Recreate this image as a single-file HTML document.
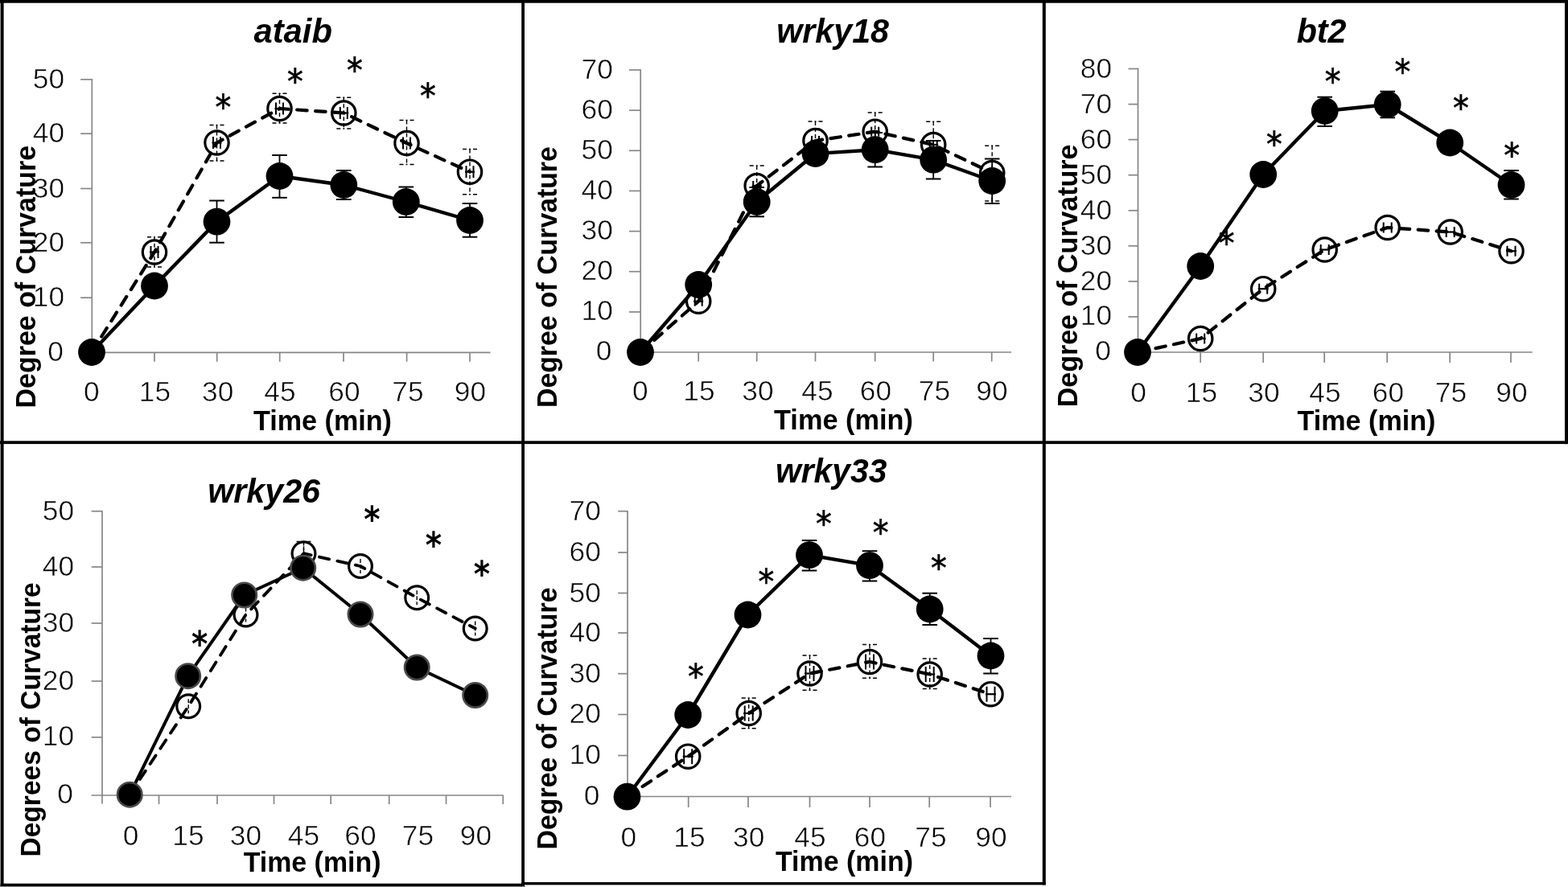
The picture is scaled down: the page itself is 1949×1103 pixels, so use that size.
<!DOCTYPE html>
<html lang="en"><head><meta charset="utf-8"><title>Degree of Curvature time courses</title>
<style>
html,body{margin:0;padding:0;background:#fff;}
body{width:1949px;height:1103px;overflow:hidden;}
svg{display:block;position:absolute;left:0;top:0;}
text{white-space:pre;}
</style></head><body>
<svg width="1949" height="1103" viewBox="0 0 1949 1103">
<rect x="0" y="0" width="1949" height="1103" fill="#fff"/>
<line x1="114.3" y1="98.0" x2="114.3" y2="438.3" stroke="#868686" stroke-width="1.7" />
<line x1="114.3" y1="438.3" x2="609.5" y2="438.3" stroke="#868686" stroke-width="1.7" />
<line x1="100.1" y1="438.3" x2="114.3" y2="438.3" stroke="#868686" stroke-width="1.7" />
<text x="78.8" y="448.6" font-size="35.3" text-anchor="end" fill="#050505" font-family='"Liberation Sans", "DejaVu Sans", sans-serif' stroke="#fff" stroke-width="0.55">0</text>
<line x1="100.1" y1="370.2" x2="114.3" y2="370.2" stroke="#868686" stroke-width="1.7" />
<text x="80.1" y="380.7" font-size="35.3" text-anchor="end" fill="#050505" font-family='"Liberation Sans", "DejaVu Sans", sans-serif' stroke="#fff" stroke-width="0.55">10</text>
<line x1="100.1" y1="301.8" x2="114.3" y2="301.8" stroke="#868686" stroke-width="1.7" />
<text x="80.1" y="312.5" font-size="35.3" text-anchor="end" fill="#050505" font-family='"Liberation Sans", "DejaVu Sans", sans-serif' stroke="#fff" stroke-width="0.55">20</text>
<line x1="100.1" y1="234.5" x2="114.3" y2="234.5" stroke="#868686" stroke-width="1.7" />
<text x="80.1" y="245.5" font-size="35.3" text-anchor="end" fill="#050505" font-family='"Liberation Sans", "DejaVu Sans", sans-serif' stroke="#fff" stroke-width="0.55">30</text>
<line x1="100.1" y1="166.2" x2="114.3" y2="166.2" stroke="#868686" stroke-width="1.7" />
<text x="80.1" y="177.4" font-size="35.3" text-anchor="end" fill="#050505" font-family='"Liberation Sans", "DejaVu Sans", sans-serif' stroke="#fff" stroke-width="0.55">40</text>
<line x1="100.1" y1="98.8" x2="114.3" y2="98.8" stroke="#868686" stroke-width="1.7" />
<text x="80.1" y="110.2" font-size="35.3" text-anchor="end" fill="#050505" font-family='"Liberation Sans", "DejaVu Sans", sans-serif' stroke="#fff" stroke-width="0.55">50</text>
<line x1="192.0" y1="438.3" x2="192.0" y2="449.8" stroke="#868686" stroke-width="1.7" />
<line x1="269.7" y1="438.3" x2="269.7" y2="449.8" stroke="#868686" stroke-width="1.7" />
<line x1="347.7" y1="438.3" x2="347.7" y2="449.8" stroke="#868686" stroke-width="1.7" />
<line x1="427.0" y1="438.3" x2="427.0" y2="449.8" stroke="#868686" stroke-width="1.7" />
<line x1="505.6" y1="438.3" x2="505.6" y2="449.8" stroke="#868686" stroke-width="1.7" />
<line x1="584.0" y1="438.3" x2="584.0" y2="449.8" stroke="#868686" stroke-width="1.7" />
<text x="113.8" y="498.6" font-size="35.3" text-anchor="middle" fill="#050505" font-family='"Liberation Sans", "DejaVu Sans", sans-serif' stroke="#fff" stroke-width="0.55">0</text>
<text x="192.5" y="498.6" font-size="35.3" text-anchor="middle" fill="#050505" font-family='"Liberation Sans", "DejaVu Sans", sans-serif' stroke="#fff" stroke-width="0.55">15</text>
<text x="270.7" y="498.6" font-size="35.3" text-anchor="middle" fill="#050505" font-family='"Liberation Sans", "DejaVu Sans", sans-serif' stroke="#fff" stroke-width="0.55">30</text>
<text x="348.0" y="498.6" font-size="35.3" text-anchor="middle" fill="#050505" font-family='"Liberation Sans", "DejaVu Sans", sans-serif' stroke="#fff" stroke-width="0.55">45</text>
<text x="428.0" y="498.6" font-size="35.3" text-anchor="middle" fill="#050505" font-family='"Liberation Sans", "DejaVu Sans", sans-serif' stroke="#fff" stroke-width="0.55">60</text>
<text x="507.0" y="498.6" font-size="35.3" text-anchor="middle" fill="#050505" font-family='"Liberation Sans", "DejaVu Sans", sans-serif' stroke="#fff" stroke-width="0.55">75</text>
<text x="584.5" y="498.6" font-size="35.3" text-anchor="middle" fill="#050505" font-family='"Liberation Sans", "DejaVu Sans", sans-serif' stroke="#fff" stroke-width="0.55">90</text>
<text x="364.2" y="52.5" font-size="43.2" text-anchor="middle" fill="#000" font-family='"Liberation Sans", "DejaVu Sans", sans-serif' font-weight="bold" font-style="italic" textLength="97.5" lengthAdjust="spacingAndGlyphs">ataib</text>
<text x="401.0" y="534.7" font-size="34.6" text-anchor="middle" fill="#000" font-family='"Liberation Sans", "DejaVu Sans", sans-serif' font-weight="bold" textLength="172.0" lengthAdjust="spacingAndGlyphs">Time (min)</text>
<text x="44.0" y="344.2" font-size="34.2" text-anchor="middle" fill="#000" font-family='"Liberation Sans", "DejaVu Sans", sans-serif' font-weight="bold" textLength="326.5" lengthAdjust="spacingAndGlyphs" transform="rotate(-90 44.0 344.2)">Degree of Curvature</text>
<polyline points="114.0,438.0 192.0,313.5 269.5,177.5 347.5,135.0 427.3,140.5 505.5,178.0 584.0,213.7" fill="none" stroke="#000" stroke-width="4.2" stroke-dasharray="12.5 10.5" stroke-linecap="round" stroke-linejoin="round"/>
<line x1="192.0" y1="294.7" x2="192.0" y2="332.0" stroke="#000" stroke-width="1.4" stroke-dasharray="5 3"/>
<line x1="183.0" y1="294.7" x2="201.0" y2="294.7" stroke="#000" stroke-width="1.5" stroke-dasharray="5 3 2 3"/>
<line x1="183.0" y1="332.0" x2="201.0" y2="332.0" stroke="#000" stroke-width="1.5" stroke-dasharray="5 3 2 3"/>
<line x1="269.5" y1="155.5" x2="269.5" y2="200.0" stroke="#000" stroke-width="1.4" stroke-dasharray="5 3"/>
<line x1="260.5" y1="155.5" x2="278.5" y2="155.5" stroke="#000" stroke-width="1.5" stroke-dasharray="5 3 2 3"/>
<line x1="260.5" y1="200.0" x2="278.5" y2="200.0" stroke="#000" stroke-width="1.5" stroke-dasharray="5 3 2 3"/>
<line x1="347.5" y1="116.2" x2="347.5" y2="153.0" stroke="#000" stroke-width="1.4" stroke-dasharray="5 3"/>
<line x1="338.5" y1="116.2" x2="356.5" y2="116.2" stroke="#000" stroke-width="1.5" stroke-dasharray="5 3 2 3"/>
<line x1="338.5" y1="153.0" x2="356.5" y2="153.0" stroke="#000" stroke-width="1.5" stroke-dasharray="5 3 2 3"/>
<line x1="427.3" y1="121.2" x2="427.3" y2="160.0" stroke="#000" stroke-width="1.4" stroke-dasharray="5 3"/>
<line x1="418.3" y1="121.2" x2="436.3" y2="121.2" stroke="#000" stroke-width="1.5" stroke-dasharray="5 3 2 3"/>
<line x1="418.3" y1="160.0" x2="436.3" y2="160.0" stroke="#000" stroke-width="1.5" stroke-dasharray="5 3 2 3"/>
<line x1="505.5" y1="149.5" x2="505.5" y2="204.5" stroke="#000" stroke-width="1.4" stroke-dasharray="5 3"/>
<line x1="496.5" y1="149.5" x2="514.5" y2="149.5" stroke="#000" stroke-width="1.5" stroke-dasharray="5 3 2 3"/>
<line x1="496.5" y1="204.5" x2="514.5" y2="204.5" stroke="#000" stroke-width="1.5" stroke-dasharray="5 3 2 3"/>
<line x1="584.0" y1="185.5" x2="584.0" y2="241.7" stroke="#000" stroke-width="1.4" stroke-dasharray="5 3"/>
<line x1="575.0" y1="185.5" x2="593.0" y2="185.5" stroke="#000" stroke-width="1.5" stroke-dasharray="5 3 2 3"/>
<line x1="575.0" y1="241.7" x2="593.0" y2="241.7" stroke="#000" stroke-width="1.5" stroke-dasharray="5 3 2 3"/>
<circle cx="192.0" cy="313.5" r="14.7" fill="none" stroke="#000" stroke-width="3.2"/>
<circle cx="269.5" cy="177.5" r="14.7" fill="none" stroke="#000" stroke-width="3.2"/>
<circle cx="347.5" cy="135.0" r="14.7" fill="none" stroke="#000" stroke-width="3.2"/>
<circle cx="427.3" cy="140.5" r="14.7" fill="none" stroke="#000" stroke-width="3.2"/>
<circle cx="505.5" cy="178.0" r="14.7" fill="none" stroke="#000" stroke-width="3.2"/>
<circle cx="584.0" cy="213.7" r="14.7" fill="none" stroke="#000" stroke-width="3.2"/>
<line x1="187.5" y1="306.0" x2="187.5" y2="321.0" stroke="#000" stroke-width="2" />
<line x1="196.5" y1="306.0" x2="196.5" y2="321.0" stroke="#000" stroke-width="2" />
<line x1="186.0" y1="313.5" x2="198.0" y2="313.5" stroke="#000" stroke-width="2.2" />
<line x1="265.0" y1="170.0" x2="265.0" y2="185.0" stroke="#000" stroke-width="2" />
<line x1="274.0" y1="170.0" x2="274.0" y2="185.0" stroke="#000" stroke-width="2" />
<line x1="263.5" y1="177.5" x2="275.5" y2="177.5" stroke="#000" stroke-width="2.2" />
<line x1="343.0" y1="127.5" x2="343.0" y2="142.5" stroke="#000" stroke-width="2" />
<line x1="352.0" y1="127.5" x2="352.0" y2="142.5" stroke="#000" stroke-width="2" />
<line x1="341.5" y1="135.0" x2="353.5" y2="135.0" stroke="#000" stroke-width="2.2" />
<line x1="422.8" y1="133.0" x2="422.8" y2="148.0" stroke="#000" stroke-width="2" />
<line x1="431.8" y1="133.0" x2="431.8" y2="148.0" stroke="#000" stroke-width="2" />
<line x1="421.3" y1="140.5" x2="433.3" y2="140.5" stroke="#000" stroke-width="2.2" />
<line x1="501.0" y1="170.5" x2="501.0" y2="185.5" stroke="#000" stroke-width="2" />
<line x1="510.0" y1="170.5" x2="510.0" y2="185.5" stroke="#000" stroke-width="2" />
<line x1="499.5" y1="178.0" x2="511.5" y2="178.0" stroke="#000" stroke-width="2.2" />
<line x1="579.5" y1="206.2" x2="579.5" y2="221.2" stroke="#000" stroke-width="2" />
<line x1="588.5" y1="206.2" x2="588.5" y2="221.2" stroke="#000" stroke-width="2" />
<line x1="578.0" y1="213.7" x2="590.0" y2="213.7" stroke="#000" stroke-width="2.2" />
<line x1="269.5" y1="249.5" x2="269.5" y2="301.7" stroke="#000" stroke-width="1.8" />
<line x1="260.2" y1="249.5" x2="278.8" y2="249.5" stroke="#000" stroke-width="2" />
<line x1="260.2" y1="301.7" x2="278.8" y2="301.7" stroke="#000" stroke-width="2" />
<line x1="347.5" y1="193.0" x2="347.5" y2="245.8" stroke="#000" stroke-width="1.8" />
<line x1="338.2" y1="193.0" x2="356.8" y2="193.0" stroke="#000" stroke-width="2" />
<line x1="338.2" y1="245.8" x2="356.8" y2="245.8" stroke="#000" stroke-width="2" />
<line x1="427.3" y1="212.0" x2="427.3" y2="248.0" stroke="#000" stroke-width="1.8" />
<line x1="418.0" y1="212.0" x2="436.6" y2="212.0" stroke="#000" stroke-width="2" />
<line x1="418.0" y1="248.0" x2="436.6" y2="248.0" stroke="#000" stroke-width="2" />
<line x1="504.8" y1="232.5" x2="504.8" y2="270.0" stroke="#000" stroke-width="1.8" />
<line x1="495.5" y1="232.5" x2="514.1" y2="232.5" stroke="#000" stroke-width="2" />
<line x1="495.5" y1="270.0" x2="514.1" y2="270.0" stroke="#000" stroke-width="2" />
<line x1="584.0" y1="253.0" x2="584.0" y2="294.7" stroke="#000" stroke-width="1.8" />
<line x1="574.7" y1="253.0" x2="593.3" y2="253.0" stroke="#000" stroke-width="2" />
<line x1="574.7" y1="294.7" x2="593.3" y2="294.7" stroke="#000" stroke-width="2" />
<polyline points="114.0,438.0 192.0,355.5 269.5,275.6 347.5,219.0 427.3,230.0 504.8,251.0 584.0,274.0" fill="none" stroke="#000" stroke-width="4.4" stroke-linejoin="round"/>
<circle cx="114.0" cy="438.0" r="16.9" fill="#000"/>
<circle cx="192.0" cy="355.5" r="16.9" fill="#000"/>
<circle cx="269.5" cy="275.6" r="16.9" fill="#000"/>
<circle cx="347.5" cy="219.0" r="16.9" fill="#000"/>
<circle cx="427.3" cy="230.0" r="16.9" fill="#000"/>
<circle cx="504.8" cy="251.0" r="16.9" fill="#000"/>
<circle cx="584.0" cy="274.0" r="16.9" fill="#000"/>
<text transform="translate(277.5 126.0) scale(0.92 1.0)" x="0" y="21.8" font-size="43" text-anchor="middle" stroke="#000" stroke-width="0.7" font-family='"DejaVu Sans", "Liberation Sans", sans-serif'>*</text>
<text transform="translate(366.8 93.8) scale(0.92 1.0)" x="0" y="21.8" font-size="43" text-anchor="middle" stroke="#000" stroke-width="0.7" font-family='"DejaVu Sans", "Liberation Sans", sans-serif'>*</text>
<text transform="translate(441.0 80.0) scale(0.92 1.0)" x="0" y="21.8" font-size="43" text-anchor="middle" stroke="#000" stroke-width="0.7" font-family='"DejaVu Sans", "Liberation Sans", sans-serif'>*</text>
<text transform="translate(532.0 112.5) scale(0.92 1.0)" x="0" y="21.8" font-size="43" text-anchor="middle" stroke="#000" stroke-width="0.7" font-family='"DejaVu Sans", "Liberation Sans", sans-serif'>*</text>
<line x1="796.2" y1="86.2" x2="796.2" y2="438.0" stroke="#868686" stroke-width="1.7" />
<line x1="796.2" y1="438.0" x2="1257.0" y2="438.0" stroke="#868686" stroke-width="1.7" />
<line x1="782.0" y1="438.0" x2="796.2" y2="438.0" stroke="#868686" stroke-width="1.7" />
<text x="760.5" y="448.3" font-size="35.3" text-anchor="end" fill="#050505" font-family='"Liberation Sans", "DejaVu Sans", sans-serif' stroke="#fff" stroke-width="0.55">0</text>
<line x1="782.0" y1="387.9" x2="796.2" y2="387.9" stroke="#868686" stroke-width="1.7" />
<text x="761.8" y="398.3" font-size="35.3" text-anchor="end" fill="#050505" font-family='"Liberation Sans", "DejaVu Sans", sans-serif' stroke="#fff" stroke-width="0.55">10</text>
<line x1="782.0" y1="337.7" x2="796.2" y2="337.7" stroke="#868686" stroke-width="1.7" />
<text x="761.8" y="348.3" font-size="35.3" text-anchor="end" fill="#050505" font-family='"Liberation Sans", "DejaVu Sans", sans-serif' stroke="#fff" stroke-width="0.55">20</text>
<line x1="782.0" y1="287.6" x2="796.2" y2="287.6" stroke="#868686" stroke-width="1.7" />
<text x="761.8" y="298.4" font-size="35.3" text-anchor="end" fill="#050505" font-family='"Liberation Sans", "DejaVu Sans", sans-serif' stroke="#fff" stroke-width="0.55">30</text>
<line x1="782.0" y1="237.4" x2="796.2" y2="237.4" stroke="#868686" stroke-width="1.7" />
<text x="761.8" y="248.4" font-size="35.3" text-anchor="end" fill="#050505" font-family='"Liberation Sans", "DejaVu Sans", sans-serif' stroke="#fff" stroke-width="0.55">40</text>
<line x1="782.0" y1="187.3" x2="796.2" y2="187.3" stroke="#868686" stroke-width="1.7" />
<text x="761.8" y="198.4" font-size="35.3" text-anchor="end" fill="#050505" font-family='"Liberation Sans", "DejaVu Sans", sans-serif' stroke="#fff" stroke-width="0.55">50</text>
<line x1="782.0" y1="137.2" x2="796.2" y2="137.2" stroke="#868686" stroke-width="1.7" />
<text x="761.8" y="148.4" font-size="35.3" text-anchor="end" fill="#050505" font-family='"Liberation Sans", "DejaVu Sans", sans-serif' stroke="#fff" stroke-width="0.55">60</text>
<line x1="782.0" y1="87.0" x2="796.2" y2="87.0" stroke="#868686" stroke-width="1.7" />
<text x="761.8" y="98.4" font-size="35.3" text-anchor="end" fill="#050505" font-family='"Liberation Sans", "DejaVu Sans", sans-serif' stroke="#fff" stroke-width="0.55">70</text>
<line x1="868.2" y1="438.0" x2="868.2" y2="449.5" stroke="#868686" stroke-width="1.7" />
<line x1="940.7" y1="438.0" x2="940.7" y2="449.5" stroke="#868686" stroke-width="1.7" />
<line x1="1013.5" y1="438.0" x2="1013.5" y2="449.5" stroke="#868686" stroke-width="1.7" />
<line x1="1087.7" y1="438.0" x2="1087.7" y2="449.5" stroke="#868686" stroke-width="1.7" />
<line x1="1160.2" y1="438.0" x2="1160.2" y2="449.5" stroke="#868686" stroke-width="1.7" />
<line x1="1232.7" y1="438.0" x2="1232.7" y2="449.5" stroke="#868686" stroke-width="1.7" />
<text x="795.7" y="498.2" font-size="35.3" text-anchor="middle" fill="#050505" font-family='"Liberation Sans", "DejaVu Sans", sans-serif' stroke="#fff" stroke-width="0.55">0</text>
<text x="869.0" y="498.2" font-size="35.3" text-anchor="middle" fill="#050505" font-family='"Liberation Sans", "DejaVu Sans", sans-serif' stroke="#fff" stroke-width="0.55">15</text>
<text x="942.0" y="498.2" font-size="35.3" text-anchor="middle" fill="#050505" font-family='"Liberation Sans", "DejaVu Sans", sans-serif' stroke="#fff" stroke-width="0.55">30</text>
<text x="1016.0" y="498.2" font-size="35.3" text-anchor="middle" fill="#050505" font-family='"Liberation Sans", "DejaVu Sans", sans-serif' stroke="#fff" stroke-width="0.55">45</text>
<text x="1088.5" y="498.2" font-size="35.3" text-anchor="middle" fill="#050505" font-family='"Liberation Sans", "DejaVu Sans", sans-serif' stroke="#fff" stroke-width="0.55">60</text>
<text x="1161.5" y="498.2" font-size="35.3" text-anchor="middle" fill="#050505" font-family='"Liberation Sans", "DejaVu Sans", sans-serif' stroke="#fff" stroke-width="0.55">75</text>
<text x="1233.0" y="498.2" font-size="35.3" text-anchor="middle" fill="#050505" font-family='"Liberation Sans", "DejaVu Sans", sans-serif' stroke="#fff" stroke-width="0.55">90</text>
<text x="1035.1" y="52.5" font-size="43.2" text-anchor="middle" fill="#000" font-family='"Liberation Sans", "DejaVu Sans", sans-serif' font-weight="bold" font-style="italic" textLength="139.8" lengthAdjust="spacingAndGlyphs">wrky18</text>
<text x="1048.5" y="533.6" font-size="34.6" text-anchor="middle" fill="#000" font-family='"Liberation Sans", "DejaVu Sans", sans-serif' font-weight="bold" textLength="173.0" lengthAdjust="spacingAndGlyphs">Time (min)</text>
<text x="692.0" y="344.6" font-size="34.2" text-anchor="middle" fill="#000" font-family='"Liberation Sans", "DejaVu Sans", sans-serif' font-weight="bold" textLength="324.8" lengthAdjust="spacingAndGlyphs" transform="rotate(-90 692.0 344.6)">Degree of Curvature</text>
<polyline points="796.0,438.0 868.2,374.7 940.7,231.0 1013.5,175.0 1087.7,163.7 1160.2,180.0 1233.2,215.0" fill="none" stroke="#000" stroke-width="4.2" stroke-dasharray="12.5 10.5" stroke-linecap="round" stroke-linejoin="round"/>
<line x1="940.7" y1="206.0" x2="940.7" y2="256.0" stroke="#000" stroke-width="1.4" stroke-dasharray="5 3"/>
<line x1="931.7" y1="206.0" x2="949.7" y2="206.0" stroke="#000" stroke-width="1.5" stroke-dasharray="5 3 2 3"/>
<line x1="931.7" y1="256.0" x2="949.7" y2="256.0" stroke="#000" stroke-width="1.5" stroke-dasharray="5 3 2 3"/>
<line x1="1013.5" y1="151.0" x2="1013.5" y2="199.0" stroke="#000" stroke-width="1.4" stroke-dasharray="5 3"/>
<line x1="1004.5" y1="151.0" x2="1022.5" y2="151.0" stroke="#000" stroke-width="1.5" stroke-dasharray="5 3 2 3"/>
<line x1="1004.5" y1="199.0" x2="1022.5" y2="199.0" stroke="#000" stroke-width="1.5" stroke-dasharray="5 3 2 3"/>
<line x1="1087.7" y1="140.0" x2="1087.7" y2="187.4" stroke="#000" stroke-width="1.4" stroke-dasharray="5 3"/>
<line x1="1078.7" y1="140.0" x2="1096.7" y2="140.0" stroke="#000" stroke-width="1.5" stroke-dasharray="5 3 2 3"/>
<line x1="1078.7" y1="187.4" x2="1096.7" y2="187.4" stroke="#000" stroke-width="1.5" stroke-dasharray="5 3 2 3"/>
<line x1="1160.2" y1="151.2" x2="1160.2" y2="208.8" stroke="#000" stroke-width="1.4" stroke-dasharray="5 3"/>
<line x1="1151.2" y1="151.2" x2="1169.2" y2="151.2" stroke="#000" stroke-width="1.5" stroke-dasharray="5 3 2 3"/>
<line x1="1151.2" y1="208.8" x2="1169.2" y2="208.8" stroke="#000" stroke-width="1.5" stroke-dasharray="5 3 2 3"/>
<line x1="1233.2" y1="181.2" x2="1233.2" y2="250.0" stroke="#000" stroke-width="1.4" stroke-dasharray="5 3"/>
<line x1="1224.2" y1="181.2" x2="1242.2" y2="181.2" stroke="#000" stroke-width="1.5" stroke-dasharray="5 3 2 3"/>
<line x1="1224.2" y1="250.0" x2="1242.2" y2="250.0" stroke="#000" stroke-width="1.5" stroke-dasharray="5 3 2 3"/>
<circle cx="868.2" cy="374.7" r="14.7" fill="none" stroke="#000" stroke-width="3.2"/>
<circle cx="940.7" cy="231.0" r="14.7" fill="none" stroke="#000" stroke-width="3.2"/>
<circle cx="1013.5" cy="175.0" r="14.7" fill="none" stroke="#000" stroke-width="3.2"/>
<circle cx="1087.7" cy="163.7" r="14.7" fill="none" stroke="#000" stroke-width="3.2"/>
<circle cx="1160.2" cy="180.0" r="14.7" fill="none" stroke="#000" stroke-width="3.2"/>
<circle cx="1233.2" cy="215.0" r="14.7" fill="none" stroke="#000" stroke-width="3.2"/>
<line x1="863.7" y1="368.7" x2="863.7" y2="380.7" stroke="#000" stroke-width="2" />
<line x1="872.7" y1="368.7" x2="872.7" y2="380.7" stroke="#000" stroke-width="2" />
<line x1="862.2" y1="374.7" x2="874.2" y2="374.7" stroke="#000" stroke-width="2.2" />
<line x1="936.2" y1="225.0" x2="936.2" y2="237.0" stroke="#000" stroke-width="2" />
<line x1="945.2" y1="225.0" x2="945.2" y2="237.0" stroke="#000" stroke-width="2" />
<line x1="934.7" y1="231.0" x2="946.7" y2="231.0" stroke="#000" stroke-width="2.2" />
<line x1="1009.0" y1="169.0" x2="1009.0" y2="181.0" stroke="#000" stroke-width="2" />
<line x1="1018.0" y1="169.0" x2="1018.0" y2="181.0" stroke="#000" stroke-width="2" />
<line x1="1007.5" y1="175.0" x2="1019.5" y2="175.0" stroke="#000" stroke-width="2.2" />
<line x1="1083.2" y1="157.7" x2="1083.2" y2="169.7" stroke="#000" stroke-width="2" />
<line x1="1092.2" y1="157.7" x2="1092.2" y2="169.7" stroke="#000" stroke-width="2" />
<line x1="1081.7" y1="163.7" x2="1093.7" y2="163.7" stroke="#000" stroke-width="2.2" />
<line x1="1155.7" y1="174.0" x2="1155.7" y2="186.0" stroke="#000" stroke-width="2" />
<line x1="1164.7" y1="174.0" x2="1164.7" y2="186.0" stroke="#000" stroke-width="2" />
<line x1="1154.2" y1="180.0" x2="1166.2" y2="180.0" stroke="#000" stroke-width="2.2" />
<line x1="1228.7" y1="209.0" x2="1228.7" y2="221.0" stroke="#000" stroke-width="2" />
<line x1="1237.7" y1="209.0" x2="1237.7" y2="221.0" stroke="#000" stroke-width="2" />
<line x1="1227.2" y1="215.0" x2="1239.2" y2="215.0" stroke="#000" stroke-width="2.2" />
<line x1="940.7" y1="233.0" x2="940.7" y2="269.3" stroke="#000" stroke-width="1.8" />
<line x1="931.4" y1="233.0" x2="950.0" y2="233.0" stroke="#000" stroke-width="2" />
<line x1="931.4" y1="269.3" x2="950.0" y2="269.3" stroke="#000" stroke-width="2" />
<line x1="1087.7" y1="165.0" x2="1087.7" y2="207.5" stroke="#000" stroke-width="1.8" />
<line x1="1078.4" y1="165.0" x2="1097.0" y2="165.0" stroke="#000" stroke-width="2" />
<line x1="1078.4" y1="207.5" x2="1097.0" y2="207.5" stroke="#000" stroke-width="2" />
<line x1="1160.2" y1="175.0" x2="1160.2" y2="222.5" stroke="#000" stroke-width="1.8" />
<line x1="1150.9" y1="175.0" x2="1169.5" y2="175.0" stroke="#000" stroke-width="2" />
<line x1="1150.9" y1="222.5" x2="1169.5" y2="222.5" stroke="#000" stroke-width="2" />
<line x1="1233.2" y1="197.5" x2="1233.2" y2="253.0" stroke="#000" stroke-width="1.8" />
<line x1="1223.9" y1="197.5" x2="1242.5" y2="197.5" stroke="#000" stroke-width="2" />
<line x1="1223.9" y1="253.0" x2="1242.5" y2="253.0" stroke="#000" stroke-width="2" />
<polyline points="796.0,438.0 868.2,354.0 940.7,251.0 1013.5,191.0 1087.7,186.2 1160.2,198.7 1233.2,225.0" fill="none" stroke="#000" stroke-width="4.4" stroke-linejoin="round"/>
<circle cx="796.0" cy="438.0" r="16.9" fill="#000"/>
<circle cx="868.2" cy="354.0" r="16.9" fill="#000"/>
<circle cx="940.7" cy="251.0" r="16.9" fill="#000"/>
<circle cx="1013.5" cy="191.0" r="16.9" fill="#000"/>
<circle cx="1087.7" cy="186.2" r="16.9" fill="#000"/>
<circle cx="1160.2" cy="198.7" r="16.9" fill="#000"/>
<circle cx="1233.2" cy="225.0" r="16.9" fill="#000"/>
<line x1="1414.5" y1="84.7" x2="1414.5" y2="438.0" stroke="#868686" stroke-width="1.7" />
<line x1="1414.5" y1="438.0" x2="1904.7" y2="438.0" stroke="#868686" stroke-width="1.7" />
<line x1="1402.5" y1="438.0" x2="1414.5" y2="438.0" stroke="#868686" stroke-width="1.7" />
<text x="1380.8" y="448.3" font-size="35.3" text-anchor="end" fill="#050505" font-family='"Liberation Sans", "DejaVu Sans", sans-serif' stroke="#fff" stroke-width="0.55">0</text>
<line x1="1402.5" y1="393.9" x2="1414.5" y2="393.9" stroke="#868686" stroke-width="1.7" />
<text x="1382.1" y="404.4" font-size="35.3" text-anchor="end" fill="#050505" font-family='"Liberation Sans", "DejaVu Sans", sans-serif' stroke="#fff" stroke-width="0.55">10</text>
<line x1="1402.5" y1="349.9" x2="1414.5" y2="349.9" stroke="#868686" stroke-width="1.7" />
<text x="1382.1" y="360.5" font-size="35.3" text-anchor="end" fill="#050505" font-family='"Liberation Sans", "DejaVu Sans", sans-serif' stroke="#fff" stroke-width="0.55">20</text>
<line x1="1402.5" y1="305.8" x2="1414.5" y2="305.8" stroke="#868686" stroke-width="1.7" />
<text x="1382.1" y="316.5" font-size="35.3" text-anchor="end" fill="#050505" font-family='"Liberation Sans", "DejaVu Sans", sans-serif' stroke="#fff" stroke-width="0.55">30</text>
<line x1="1402.5" y1="261.8" x2="1414.5" y2="261.8" stroke="#868686" stroke-width="1.7" />
<text x="1382.1" y="272.6" font-size="35.3" text-anchor="end" fill="#050505" font-family='"Liberation Sans", "DejaVu Sans", sans-serif' stroke="#fff" stroke-width="0.55">40</text>
<line x1="1402.5" y1="217.7" x2="1414.5" y2="217.7" stroke="#868686" stroke-width="1.7" />
<text x="1382.1" y="228.7" font-size="35.3" text-anchor="end" fill="#050505" font-family='"Liberation Sans", "DejaVu Sans", sans-serif' stroke="#fff" stroke-width="0.55">50</text>
<line x1="1402.5" y1="173.6" x2="1414.5" y2="173.6" stroke="#868686" stroke-width="1.7" />
<text x="1382.1" y="184.8" font-size="35.3" text-anchor="end" fill="#050505" font-family='"Liberation Sans", "DejaVu Sans", sans-serif' stroke="#fff" stroke-width="0.55">60</text>
<line x1="1402.5" y1="129.6" x2="1414.5" y2="129.6" stroke="#868686" stroke-width="1.7" />
<text x="1382.1" y="140.8" font-size="35.3" text-anchor="end" fill="#050505" font-family='"Liberation Sans", "DejaVu Sans", sans-serif' stroke="#fff" stroke-width="0.55">70</text>
<line x1="1402.5" y1="85.5" x2="1414.5" y2="85.5" stroke="#868686" stroke-width="1.7" />
<text x="1382.1" y="96.9" font-size="35.3" text-anchor="end" fill="#050505" font-family='"Liberation Sans", "DejaVu Sans", sans-serif' stroke="#fff" stroke-width="0.55">80</text>
<line x1="1492.2" y1="438.0" x2="1492.2" y2="451.0" stroke="#868686" stroke-width="1.7" />
<line x1="1570.2" y1="438.0" x2="1570.2" y2="451.0" stroke="#868686" stroke-width="1.7" />
<line x1="1646.2" y1="438.0" x2="1646.2" y2="451.0" stroke="#868686" stroke-width="1.7" />
<line x1="1724.2" y1="438.0" x2="1724.2" y2="451.0" stroke="#868686" stroke-width="1.7" />
<line x1="1802.2" y1="438.0" x2="1802.2" y2="451.0" stroke="#868686" stroke-width="1.7" />
<line x1="1878.0" y1="438.0" x2="1878.0" y2="451.0" stroke="#868686" stroke-width="1.7" />
<text x="1415.0" y="500.3" font-size="35.3" text-anchor="middle" fill="#050505" font-family='"Liberation Sans", "DejaVu Sans", sans-serif' stroke="#fff" stroke-width="0.55">0</text>
<text x="1493.5" y="500.3" font-size="35.3" text-anchor="middle" fill="#050505" font-family='"Liberation Sans", "DejaVu Sans", sans-serif' stroke="#fff" stroke-width="0.55">15</text>
<text x="1571.0" y="500.3" font-size="35.3" text-anchor="middle" fill="#050505" font-family='"Liberation Sans", "DejaVu Sans", sans-serif' stroke="#fff" stroke-width="0.55">30</text>
<text x="1647.0" y="500.3" font-size="35.3" text-anchor="middle" fill="#050505" font-family='"Liberation Sans", "DejaVu Sans", sans-serif' stroke="#fff" stroke-width="0.55">45</text>
<text x="1725.5" y="500.3" font-size="35.3" text-anchor="middle" fill="#050505" font-family='"Liberation Sans", "DejaVu Sans", sans-serif' stroke="#fff" stroke-width="0.55">60</text>
<text x="1803.5" y="500.3" font-size="35.3" text-anchor="middle" fill="#050505" font-family='"Liberation Sans", "DejaVu Sans", sans-serif' stroke="#fff" stroke-width="0.55">75</text>
<text x="1879.0" y="500.3" font-size="35.3" text-anchor="middle" fill="#050505" font-family='"Liberation Sans", "DejaVu Sans", sans-serif' stroke="#fff" stroke-width="0.55">90</text>
<text x="1642.6" y="52.5" font-size="43.2" text-anchor="middle" fill="#000" font-family='"Liberation Sans", "DejaVu Sans", sans-serif' font-weight="bold" font-style="italic" textLength="61.8" lengthAdjust="spacingAndGlyphs">bt2</text>
<text x="1698.5" y="534.7" font-size="34.6" text-anchor="middle" fill="#000" font-family='"Liberation Sans", "DejaVu Sans", sans-serif' font-weight="bold" textLength="172.0" lengthAdjust="spacingAndGlyphs">Time (min)</text>
<text x="1339.0" y="342.9" font-size="34.2" text-anchor="middle" fill="#000" font-family='"Liberation Sans", "DejaVu Sans", sans-serif' font-weight="bold" textLength="326.7" lengthAdjust="spacingAndGlyphs" transform="rotate(-90 1339.0 342.9)">Degree of Curvature</text>
<polyline points="1414.0,438.0 1492.2,421.0 1570.2,359.2 1646.7,310.5 1724.7,283.0 1802.7,288.5 1878.5,312.2" fill="none" stroke="#000" stroke-width="4.2" stroke-dasharray="12.5 10.5" stroke-linecap="round" stroke-linejoin="round"/>
<circle cx="1492.2" cy="421.0" r="14.7" fill="none" stroke="#000" stroke-width="3.2"/>
<circle cx="1570.2" cy="359.2" r="14.7" fill="none" stroke="#000" stroke-width="3.2"/>
<circle cx="1646.7" cy="310.5" r="14.7" fill="none" stroke="#000" stroke-width="3.2"/>
<circle cx="1724.7" cy="283.0" r="14.7" fill="none" stroke="#000" stroke-width="3.2"/>
<circle cx="1802.7" cy="288.5" r="14.7" fill="none" stroke="#000" stroke-width="3.2"/>
<circle cx="1878.5" cy="312.2" r="14.7" fill="none" stroke="#000" stroke-width="3.2"/>
<line x1="1487.2" y1="414.5" x2="1487.2" y2="427.5" stroke="#000" stroke-width="2" />
<line x1="1497.2" y1="414.5" x2="1497.2" y2="427.5" stroke="#000" stroke-width="2" />
<line x1="1485.7" y1="421.0" x2="1498.7" y2="421.0" stroke="#000" stroke-width="2.2" />
<line x1="1565.2" y1="352.7" x2="1565.2" y2="365.7" stroke="#000" stroke-width="2" />
<line x1="1575.2" y1="352.7" x2="1575.2" y2="365.7" stroke="#000" stroke-width="2" />
<line x1="1563.7" y1="359.2" x2="1576.7" y2="359.2" stroke="#000" stroke-width="2.2" />
<line x1="1641.7" y1="304.0" x2="1641.7" y2="317.0" stroke="#000" stroke-width="2" />
<line x1="1651.7" y1="304.0" x2="1651.7" y2="317.0" stroke="#000" stroke-width="2" />
<line x1="1640.2" y1="310.5" x2="1653.2" y2="310.5" stroke="#000" stroke-width="2.2" />
<line x1="1719.7" y1="276.5" x2="1719.7" y2="289.5" stroke="#000" stroke-width="2" />
<line x1="1729.7" y1="276.5" x2="1729.7" y2="289.5" stroke="#000" stroke-width="2" />
<line x1="1718.2" y1="283.0" x2="1731.2" y2="283.0" stroke="#000" stroke-width="2.2" />
<line x1="1797.7" y1="282.0" x2="1797.7" y2="295.0" stroke="#000" stroke-width="2" />
<line x1="1807.7" y1="282.0" x2="1807.7" y2="295.0" stroke="#000" stroke-width="2" />
<line x1="1796.2" y1="288.5" x2="1809.2" y2="288.5" stroke="#000" stroke-width="2.2" />
<line x1="1873.5" y1="305.7" x2="1873.5" y2="318.7" stroke="#000" stroke-width="2" />
<line x1="1883.5" y1="305.7" x2="1883.5" y2="318.7" stroke="#000" stroke-width="2" />
<line x1="1872.0" y1="312.2" x2="1885.0" y2="312.2" stroke="#000" stroke-width="2.2" />
<line x1="1646.7" y1="120.7" x2="1646.7" y2="157.0" stroke="#000" stroke-width="1.8" />
<line x1="1637.4" y1="120.7" x2="1656.0" y2="120.7" stroke="#000" stroke-width="2" />
<line x1="1637.4" y1="157.0" x2="1656.0" y2="157.0" stroke="#000" stroke-width="2" />
<line x1="1724.7" y1="113.7" x2="1724.7" y2="146.3" stroke="#000" stroke-width="1.8" />
<line x1="1715.4" y1="113.7" x2="1734.0" y2="113.7" stroke="#000" stroke-width="2" />
<line x1="1715.4" y1="146.3" x2="1734.0" y2="146.3" stroke="#000" stroke-width="2" />
<line x1="1878.5" y1="212.0" x2="1878.5" y2="247.5" stroke="#000" stroke-width="1.8" />
<line x1="1869.2" y1="212.0" x2="1887.8" y2="212.0" stroke="#000" stroke-width="2" />
<line x1="1869.2" y1="247.5" x2="1887.8" y2="247.5" stroke="#000" stroke-width="2" />
<polyline points="1414.0,438.0 1492.2,331.0 1570.2,217.0 1646.7,138.0 1724.7,130.0 1802.2,177.5 1878.5,230.0" fill="none" stroke="#000" stroke-width="4.4" stroke-linejoin="round"/>
<circle cx="1414.0" cy="438.0" r="16.9" fill="#000"/>
<circle cx="1492.2" cy="331.0" r="16.9" fill="#000"/>
<circle cx="1570.2" cy="217.0" r="16.9" fill="#000"/>
<circle cx="1646.7" cy="138.0" r="16.9" fill="#000"/>
<circle cx="1724.7" cy="130.0" r="16.9" fill="#000"/>
<circle cx="1802.2" cy="177.5" r="16.9" fill="#000"/>
<circle cx="1878.5" cy="230.0" r="16.9" fill="#000"/>
<text transform="translate(1524.7 294.7) scale(0.92 1.0)" x="0" y="21.8" font-size="43" text-anchor="middle" stroke="#000" stroke-width="0.7" font-family='"DejaVu Sans", "Liberation Sans", sans-serif'>*</text>
<text transform="translate(1584.0 172.5) scale(0.92 1.0)" x="0" y="21.8" font-size="43" text-anchor="middle" stroke="#000" stroke-width="0.7" font-family='"DejaVu Sans", "Liberation Sans", sans-serif'>*</text>
<text transform="translate(1656.7 93.7) scale(0.92 1.0)" x="0" y="21.8" font-size="43" text-anchor="middle" stroke="#000" stroke-width="0.7" font-family='"DejaVu Sans", "Liberation Sans", sans-serif'>*</text>
<text transform="translate(1743.5 81.7) scale(0.92 1.0)" x="0" y="21.8" font-size="43" text-anchor="middle" stroke="#000" stroke-width="0.7" font-family='"DejaVu Sans", "Liberation Sans", sans-serif'>*</text>
<text transform="translate(1816.0 127.5) scale(0.92 1.0)" x="0" y="21.8" font-size="43" text-anchor="middle" stroke="#000" stroke-width="0.7" font-family='"DejaVu Sans", "Liberation Sans", sans-serif'>*</text>
<text transform="translate(1879.2 185.7) scale(0.92 1.0)" x="0" y="21.8" font-size="43" text-anchor="middle" stroke="#000" stroke-width="0.7" font-family='"DejaVu Sans", "Liberation Sans", sans-serif'>*</text>
<line x1="127.0" y1="634.9" x2="127.0" y2="999.5" stroke="#868686" stroke-width="1.7" />
<line x1="113.7" y1="989.0" x2="625.7" y2="989.0" stroke="#868686" stroke-width="1.7" />
<text x="90.8" y="999.3" font-size="35.3" text-anchor="end" fill="#050505" font-family='"Liberation Sans", "DejaVu Sans", sans-serif' stroke="#fff" stroke-width="0.55">0</text>
<line x1="113.7" y1="916.8" x2="127.0" y2="916.8" stroke="#868686" stroke-width="1.7" />
<text x="92.1" y="927.3" font-size="35.3" text-anchor="end" fill="#050505" font-family='"Liberation Sans", "DejaVu Sans", sans-serif' stroke="#fff" stroke-width="0.55">10</text>
<line x1="113.7" y1="847.0" x2="127.0" y2="847.0" stroke="#868686" stroke-width="1.7" />
<text x="92.1" y="857.7" font-size="35.3" text-anchor="end" fill="#050505" font-family='"Liberation Sans", "DejaVu Sans", sans-serif' stroke="#fff" stroke-width="0.55">20</text>
<line x1="113.7" y1="775.0" x2="127.0" y2="775.0" stroke="#868686" stroke-width="1.7" />
<text x="92.1" y="786.0" font-size="35.3" text-anchor="end" fill="#050505" font-family='"Liberation Sans", "DejaVu Sans", sans-serif' stroke="#fff" stroke-width="0.55">30</text>
<line x1="113.7" y1="705.0" x2="127.0" y2="705.0" stroke="#868686" stroke-width="1.7" />
<text x="92.1" y="716.2" font-size="35.3" text-anchor="end" fill="#050505" font-family='"Liberation Sans", "DejaVu Sans", sans-serif' stroke="#fff" stroke-width="0.55">40</text>
<line x1="113.7" y1="635.7" x2="127.0" y2="635.7" stroke="#868686" stroke-width="1.7" />
<text x="92.1" y="647.1" font-size="35.3" text-anchor="end" fill="#050505" font-family='"Liberation Sans", "DejaVu Sans", sans-serif' stroke="#fff" stroke-width="0.55">50</text>
<line x1="197.5" y1="989.0" x2="197.5" y2="1000.0" stroke="#868686" stroke-width="1.7" />
<line x1="270.0" y1="989.0" x2="270.0" y2="1000.0" stroke="#868686" stroke-width="1.7" />
<line x1="340.5" y1="989.0" x2="340.5" y2="1000.0" stroke="#868686" stroke-width="1.7" />
<line x1="411.2" y1="989.0" x2="411.2" y2="1000.0" stroke="#868686" stroke-width="1.7" />
<line x1="483.7" y1="989.0" x2="483.7" y2="1000.0" stroke="#868686" stroke-width="1.7" />
<line x1="554.5" y1="989.0" x2="554.5" y2="1000.0" stroke="#868686" stroke-width="1.7" />
<line x1="625.3" y1="989.0" x2="625.3" y2="1000.0" stroke="#868686" stroke-width="1.7" />
<text x="162.5" y="1050.8" font-size="35.3" text-anchor="middle" fill="#050505" font-family='"Liberation Sans", "DejaVu Sans", sans-serif' stroke="#fff" stroke-width="0.55">0</text>
<text x="234.0" y="1050.8" font-size="35.3" text-anchor="middle" fill="#050505" font-family='"Liberation Sans", "DejaVu Sans", sans-serif' stroke="#fff" stroke-width="0.55">15</text>
<text x="305.5" y="1050.8" font-size="35.3" text-anchor="middle" fill="#050505" font-family='"Liberation Sans", "DejaVu Sans", sans-serif' stroke="#fff" stroke-width="0.55">30</text>
<text x="377.5" y="1050.8" font-size="35.3" text-anchor="middle" fill="#050505" font-family='"Liberation Sans", "DejaVu Sans", sans-serif' stroke="#fff" stroke-width="0.55">45</text>
<text x="448.0" y="1050.8" font-size="35.3" text-anchor="middle" fill="#050505" font-family='"Liberation Sans", "DejaVu Sans", sans-serif' stroke="#fff" stroke-width="0.55">60</text>
<text x="519.5" y="1050.8" font-size="35.3" text-anchor="middle" fill="#050505" font-family='"Liberation Sans", "DejaVu Sans", sans-serif' stroke="#fff" stroke-width="0.55">75</text>
<text x="591.5" y="1050.8" font-size="35.3" text-anchor="middle" fill="#050505" font-family='"Liberation Sans", "DejaVu Sans", sans-serif' stroke="#fff" stroke-width="0.55">90</text>
<text x="328.1" y="624.5" font-size="43.2" text-anchor="middle" fill="#000" font-family='"Liberation Sans", "DejaVu Sans", sans-serif' font-weight="bold" font-style="italic" textLength="139.8" lengthAdjust="spacingAndGlyphs">wrky26</text>
<text x="388.1" y="1083.5" font-size="34.6" text-anchor="middle" fill="#000" font-family='"Liberation Sans", "DejaVu Sans", sans-serif' font-weight="bold" textLength="170.8" lengthAdjust="spacingAndGlyphs">Time (min)</text>
<text x="50.0" y="894.9" font-size="34.2" text-anchor="middle" fill="#000" font-family='"Liberation Sans", "DejaVu Sans", sans-serif' font-weight="bold" textLength="341.3" lengthAdjust="spacingAndGlyphs" transform="rotate(-90 50.0 894.9)">Degrees of Curvature</text>
<polyline points="161.2,988.2 234.2,878.2 305.5,764.5 377.5,688.2 448.0,704.0 518.2,743.2 590.7,781.5" fill="none" stroke="#000" stroke-width="3.8" stroke-dasharray="12.5 10.5" stroke-linecap="round" stroke-linejoin="round"/>
<line x1="377.5" y1="673.6" x2="377.5" y2="688.2" stroke="#000" stroke-width="1.4" stroke-dasharray="5 3"/>
<line x1="368.5" y1="673.6" x2="386.5" y2="673.6" stroke="#000" stroke-width="1.5" stroke-dasharray="5 3 2 3"/>
<circle cx="234.2" cy="878.2" r="14.4" fill="none" stroke="#000" stroke-width="3.2"/>
<circle cx="305.5" cy="764.5" r="14.4" fill="none" stroke="#000" stroke-width="3.2"/>
<circle cx="377.5" cy="688.2" r="14.4" fill="none" stroke="#000" stroke-width="3.2"/>
<circle cx="448.0" cy="704.0" r="14.4" fill="none" stroke="#000" stroke-width="3.2"/>
<circle cx="518.2" cy="743.2" r="14.4" fill="none" stroke="#000" stroke-width="3.2"/>
<circle cx="590.7" cy="781.5" r="14.4" fill="none" stroke="#000" stroke-width="3.2"/>
<line x1="234.2" y1="869.2" x2="234.2" y2="887.2" stroke="#000" stroke-width="1.4" stroke-dasharray="5 2"/>
<line x1="305.5" y1="755.5" x2="305.5" y2="773.5" stroke="#000" stroke-width="1.4" stroke-dasharray="5 2"/>
<line x1="377.5" y1="679.2" x2="377.5" y2="697.2" stroke="#000" stroke-width="1.4" stroke-dasharray="5 2"/>
<line x1="448.0" y1="695.0" x2="448.0" y2="713.0" stroke="#000" stroke-width="1.4" stroke-dasharray="5 2"/>
<line x1="518.2" y1="734.2" x2="518.2" y2="752.2" stroke="#000" stroke-width="1.4" stroke-dasharray="5 2"/>
<line x1="590.7" y1="772.5" x2="590.7" y2="790.5" stroke="#000" stroke-width="1.4" stroke-dasharray="5 2"/>
<polyline points="161.2,988.2 233.7,840.7 303.7,740.0 376.7,706.2 448.0,764.0 518.2,830.0 590.7,864.5" fill="none" stroke="#000" stroke-width="4.0" stroke-linejoin="round"/>
<circle cx="161.2" cy="988.2" r="15.2" fill="#000" stroke="#4a4a4a" stroke-width="2.6"/>
<circle cx="233.7" cy="840.7" r="15.2" fill="#000" stroke="#4a4a4a" stroke-width="2.6"/>
<circle cx="303.7" cy="740.0" r="15.2" fill="#000" stroke="#4a4a4a" stroke-width="2.6"/>
<circle cx="376.7" cy="706.2" r="15.2" fill="#000" stroke="#4a4a4a" stroke-width="2.6"/>
<circle cx="448.0" cy="764.0" r="15.2" fill="#000" stroke="#4a4a4a" stroke-width="2.6"/>
<circle cx="518.2" cy="830.0" r="15.2" fill="#000" stroke="#4a4a4a" stroke-width="2.6"/>
<circle cx="590.7" cy="864.5" r="15.2" fill="#000" stroke="#4a4a4a" stroke-width="2.6"/>
<text transform="translate(248.2 793.2) scale(0.97 1.12)" x="0" y="20" font-size="40" text-anchor="middle" font-weight="bold" font-family='"DejaVu Sans", "Liberation Sans", sans-serif'>*</text>
<text transform="translate(462.5 639.0) scale(0.97 1.12)" x="0" y="20" font-size="40" text-anchor="middle" font-weight="bold" font-family='"DejaVu Sans", "Liberation Sans", sans-serif'>*</text>
<text transform="translate(539.0 670.7) scale(0.97 1.12)" x="0" y="20" font-size="40" text-anchor="middle" font-weight="bold" font-family='"DejaVu Sans", "Liberation Sans", sans-serif'>*</text>
<text transform="translate(599.0 706.5) scale(0.97 1.12)" x="0" y="20" font-size="40" text-anchor="middle" font-weight="bold" font-family='"DejaVu Sans", "Liberation Sans", sans-serif'>*</text>
<line x1="780.0" y1="634.9" x2="780.0" y2="990.5" stroke="#868686" stroke-width="1.7" />
<line x1="780.0" y1="990.5" x2="1257.0" y2="990.5" stroke="#868686" stroke-width="1.7" />
<line x1="768.2" y1="990.5" x2="780.0" y2="990.5" stroke="#868686" stroke-width="1.7" />
<text x="745.5" y="1000.8" font-size="35.3" text-anchor="end" fill="#050505" font-family='"Liberation Sans", "DejaVu Sans", sans-serif' stroke="#fff" stroke-width="0.55">0</text>
<line x1="768.2" y1="939.5" x2="780.0" y2="939.5" stroke="#868686" stroke-width="1.7" />
<text x="746.8" y="950.0" font-size="35.3" text-anchor="end" fill="#050505" font-family='"Liberation Sans", "DejaVu Sans", sans-serif' stroke="#fff" stroke-width="0.55">10</text>
<line x1="768.2" y1="888.5" x2="780.0" y2="888.5" stroke="#868686" stroke-width="1.7" />
<text x="746.8" y="899.1" font-size="35.3" text-anchor="end" fill="#050505" font-family='"Liberation Sans", "DejaVu Sans", sans-serif' stroke="#fff" stroke-width="0.55">20</text>
<line x1="768.2" y1="837.7" x2="780.0" y2="837.7" stroke="#868686" stroke-width="1.7" />
<text x="746.8" y="848.5" font-size="35.3" text-anchor="end" fill="#050505" font-family='"Liberation Sans", "DejaVu Sans", sans-serif' stroke="#fff" stroke-width="0.55">30</text>
<line x1="768.2" y1="787.0" x2="780.0" y2="787.0" stroke="#868686" stroke-width="1.7" />
<text x="746.8" y="797.9" font-size="35.3" text-anchor="end" fill="#050505" font-family='"Liberation Sans", "DejaVu Sans", sans-serif' stroke="#fff" stroke-width="0.55">40</text>
<line x1="768.2" y1="737.5" x2="780.0" y2="737.5" stroke="#868686" stroke-width="1.7" />
<text x="746.8" y="748.6" font-size="35.3" text-anchor="end" fill="#050505" font-family='"Liberation Sans", "DejaVu Sans", sans-serif' stroke="#fff" stroke-width="0.55">50</text>
<line x1="768.2" y1="687.0" x2="780.0" y2="687.0" stroke="#868686" stroke-width="1.7" />
<text x="746.8" y="698.2" font-size="35.3" text-anchor="end" fill="#050505" font-family='"Liberation Sans", "DejaVu Sans", sans-serif' stroke="#fff" stroke-width="0.55">60</text>
<line x1="768.2" y1="635.7" x2="780.0" y2="635.7" stroke="#868686" stroke-width="1.7" />
<text x="746.8" y="647.1" font-size="35.3" text-anchor="end" fill="#050505" font-family='"Liberation Sans", "DejaVu Sans", sans-serif' stroke="#fff" stroke-width="0.55">70</text>
<line x1="855.7" y1="990.5" x2="855.7" y2="1004.0" stroke="#868686" stroke-width="1.7" />
<line x1="930.0" y1="990.5" x2="930.0" y2="1004.0" stroke="#868686" stroke-width="1.7" />
<line x1="1006.5" y1="990.5" x2="1006.5" y2="1004.0" stroke="#868686" stroke-width="1.7" />
<line x1="1081.0" y1="990.5" x2="1081.0" y2="1004.0" stroke="#868686" stroke-width="1.7" />
<line x1="1155.2" y1="990.5" x2="1155.2" y2="1004.0" stroke="#868686" stroke-width="1.7" />
<line x1="1231.0" y1="990.5" x2="1231.0" y2="1004.0" stroke="#868686" stroke-width="1.7" />
<text x="781.2" y="1052.8" font-size="35.3" text-anchor="middle" fill="#050505" font-family='"Liberation Sans", "DejaVu Sans", sans-serif' stroke="#fff" stroke-width="0.55">0</text>
<text x="857.0" y="1052.8" font-size="35.3" text-anchor="middle" fill="#050505" font-family='"Liberation Sans", "DejaVu Sans", sans-serif' stroke="#fff" stroke-width="0.55">15</text>
<text x="930.7" y="1052.8" font-size="35.3" text-anchor="middle" fill="#050505" font-family='"Liberation Sans", "DejaVu Sans", sans-serif' stroke="#fff" stroke-width="0.55">30</text>
<text x="1007.0" y="1052.8" font-size="35.3" text-anchor="middle" fill="#050505" font-family='"Liberation Sans", "DejaVu Sans", sans-serif' stroke="#fff" stroke-width="0.55">45</text>
<text x="1081.5" y="1052.8" font-size="35.3" text-anchor="middle" fill="#050505" font-family='"Liberation Sans", "DejaVu Sans", sans-serif' stroke="#fff" stroke-width="0.55">60</text>
<text x="1157.0" y="1052.8" font-size="35.3" text-anchor="middle" fill="#050505" font-family='"Liberation Sans", "DejaVu Sans", sans-serif' stroke="#fff" stroke-width="0.55">75</text>
<text x="1232.0" y="1052.8" font-size="35.3" text-anchor="middle" fill="#050505" font-family='"Liberation Sans", "DejaVu Sans", sans-serif' stroke="#fff" stroke-width="0.55">90</text>
<text x="1033.2" y="599.5" font-size="43.2" text-anchor="middle" fill="#000" font-family='"Liberation Sans", "DejaVu Sans", sans-serif' font-weight="bold" font-style="italic" textLength="138.5" lengthAdjust="spacingAndGlyphs">wrky33</text>
<text x="1049.5" y="1082.7" font-size="34.6" text-anchor="middle" fill="#000" font-family='"Liberation Sans", "DejaVu Sans", sans-serif' font-weight="bold" textLength="171.0" lengthAdjust="spacingAndGlyphs">Time (min)</text>
<text x="692.0" y="893.5" font-size="34.2" text-anchor="middle" fill="#000" font-family='"Liberation Sans", "DejaVu Sans", sans-serif' font-weight="bold" textLength="326.0" lengthAdjust="spacingAndGlyphs" transform="rotate(-90 692.0 893.5)">Degree of Curvature</text>
<polyline points="779.5,990.7 855.2,940.7 930.7,887.0 1006.5,837.5 1081.0,823.0 1155.7,838.5 1231.5,863.2" fill="none" stroke="#000" stroke-width="4.2" stroke-dasharray="12.5 10.5" stroke-linecap="round" stroke-linejoin="round"/>
<line x1="930.7" y1="868.0" x2="930.7" y2="905.7" stroke="#000" stroke-width="1.4" stroke-dasharray="5 3"/>
<line x1="921.7" y1="868.0" x2="939.7" y2="868.0" stroke="#000" stroke-width="1.5" stroke-dasharray="5 3 2 3"/>
<line x1="921.7" y1="905.7" x2="939.7" y2="905.7" stroke="#000" stroke-width="1.5" stroke-dasharray="5 3 2 3"/>
<line x1="1006.5" y1="815.0" x2="1006.5" y2="858.2" stroke="#000" stroke-width="1.4" stroke-dasharray="5 3"/>
<line x1="997.5" y1="815.0" x2="1015.5" y2="815.0" stroke="#000" stroke-width="1.5" stroke-dasharray="5 3 2 3"/>
<line x1="997.5" y1="858.2" x2="1015.5" y2="858.2" stroke="#000" stroke-width="1.5" stroke-dasharray="5 3 2 3"/>
<line x1="1081.0" y1="801.5" x2="1081.0" y2="843.2" stroke="#000" stroke-width="1.4" stroke-dasharray="5 3"/>
<line x1="1072.0" y1="801.5" x2="1090.0" y2="801.5" stroke="#000" stroke-width="1.5" stroke-dasharray="5 3 2 3"/>
<line x1="1072.0" y1="843.2" x2="1090.0" y2="843.2" stroke="#000" stroke-width="1.5" stroke-dasharray="5 3 2 3"/>
<line x1="1155.7" y1="819.0" x2="1155.7" y2="856.5" stroke="#000" stroke-width="1.4" stroke-dasharray="5 3"/>
<line x1="1146.7" y1="819.0" x2="1164.7" y2="819.0" stroke="#000" stroke-width="1.5" stroke-dasharray="5 3 2 3"/>
<line x1="1146.7" y1="856.5" x2="1164.7" y2="856.5" stroke="#000" stroke-width="1.5" stroke-dasharray="5 3 2 3"/>
<circle cx="855.2" cy="940.7" r="14.7" fill="none" stroke="#000" stroke-width="3.2"/>
<circle cx="930.7" cy="887.0" r="14.7" fill="none" stroke="#000" stroke-width="3.2"/>
<circle cx="1006.5" cy="837.5" r="14.7" fill="none" stroke="#000" stroke-width="3.2"/>
<circle cx="1081.0" cy="823.0" r="14.7" fill="none" stroke="#000" stroke-width="3.2"/>
<circle cx="1155.7" cy="838.5" r="14.7" fill="none" stroke="#000" stroke-width="3.2"/>
<circle cx="1231.5" cy="863.2" r="14.7" fill="none" stroke="#000" stroke-width="3.2"/>
<line x1="850.2" y1="931.2" x2="850.2" y2="950.2" stroke="#000" stroke-width="2" />
<line x1="860.2" y1="931.2" x2="860.2" y2="950.2" stroke="#000" stroke-width="2" />
<line x1="848.7" y1="940.7" x2="861.7" y2="940.7" stroke="#000" stroke-width="2.2" />
<line x1="925.7" y1="877.5" x2="925.7" y2="896.5" stroke="#000" stroke-width="2" />
<line x1="935.7" y1="877.5" x2="935.7" y2="896.5" stroke="#000" stroke-width="2" />
<line x1="924.2" y1="887.0" x2="937.2" y2="887.0" stroke="#000" stroke-width="2.2" />
<line x1="1001.5" y1="828.0" x2="1001.5" y2="847.0" stroke="#000" stroke-width="2" />
<line x1="1011.5" y1="828.0" x2="1011.5" y2="847.0" stroke="#000" stroke-width="2" />
<line x1="1000.0" y1="837.5" x2="1013.0" y2="837.5" stroke="#000" stroke-width="2.2" />
<line x1="1076.0" y1="813.5" x2="1076.0" y2="832.5" stroke="#000" stroke-width="2" />
<line x1="1086.0" y1="813.5" x2="1086.0" y2="832.5" stroke="#000" stroke-width="2" />
<line x1="1074.5" y1="823.0" x2="1087.5" y2="823.0" stroke="#000" stroke-width="2.2" />
<line x1="1150.7" y1="829.0" x2="1150.7" y2="848.0" stroke="#000" stroke-width="2" />
<line x1="1160.7" y1="829.0" x2="1160.7" y2="848.0" stroke="#000" stroke-width="2" />
<line x1="1149.2" y1="838.5" x2="1162.2" y2="838.5" stroke="#000" stroke-width="2.2" />
<line x1="1226.5" y1="853.7" x2="1226.5" y2="872.7" stroke="#000" stroke-width="2" />
<line x1="1236.5" y1="853.7" x2="1236.5" y2="872.7" stroke="#000" stroke-width="2" />
<line x1="1225.0" y1="863.2" x2="1238.0" y2="863.2" stroke="#000" stroke-width="2.2" />
<line x1="1006.0" y1="672.0" x2="1006.0" y2="709.5" stroke="#000" stroke-width="1.8" />
<line x1="996.7" y1="672.0" x2="1015.3" y2="672.0" stroke="#000" stroke-width="2" />
<line x1="996.7" y1="709.5" x2="1015.3" y2="709.5" stroke="#000" stroke-width="2" />
<line x1="1081.0" y1="685.2" x2="1081.0" y2="722.5" stroke="#000" stroke-width="1.8" />
<line x1="1071.7" y1="685.2" x2="1090.3" y2="685.2" stroke="#000" stroke-width="2" />
<line x1="1071.7" y1="722.5" x2="1090.3" y2="722.5" stroke="#000" stroke-width="2" />
<line x1="1155.7" y1="737.7" x2="1155.7" y2="777.0" stroke="#000" stroke-width="1.8" />
<line x1="1146.4" y1="737.7" x2="1165.0" y2="737.7" stroke="#000" stroke-width="2" />
<line x1="1146.4" y1="777.0" x2="1165.0" y2="777.0" stroke="#000" stroke-width="2" />
<line x1="1231.5" y1="794.0" x2="1231.5" y2="837.5" stroke="#000" stroke-width="1.8" />
<line x1="1222.2" y1="794.0" x2="1240.8" y2="794.0" stroke="#000" stroke-width="2" />
<line x1="1222.2" y1="837.5" x2="1240.8" y2="837.5" stroke="#000" stroke-width="2" />
<polyline points="779.5,990.7 855.2,889.0 929.5,764.5 1006.0,690.2 1081.0,703.2 1155.7,757.5 1231.5,815.5" fill="none" stroke="#000" stroke-width="4.4" stroke-linejoin="round"/>
<circle cx="779.5" cy="990.7" r="16.9" fill="#000"/>
<circle cx="855.2" cy="889.0" r="16.9" fill="#000"/>
<circle cx="929.5" cy="764.5" r="16.9" fill="#000"/>
<circle cx="1006.0" cy="690.2" r="16.9" fill="#000"/>
<circle cx="1081.0" cy="703.2" r="16.9" fill="#000"/>
<circle cx="1155.7" cy="757.5" r="16.9" fill="#000"/>
<circle cx="1231.5" cy="815.5" r="16.9" fill="#000"/>
<text transform="translate(865.0 834.5) scale(0.92 1.0)" x="0" y="21.8" font-size="43" text-anchor="middle" stroke="#000" stroke-width="0.7" font-family='"DejaVu Sans", "Liberation Sans", sans-serif'>*</text>
<text transform="translate(952.5 715.7) scale(0.92 1.0)" x="0" y="21.8" font-size="43" text-anchor="middle" stroke="#000" stroke-width="0.7" font-family='"DejaVu Sans", "Liberation Sans", sans-serif'>*</text>
<text transform="translate(1024.0 643.7) scale(0.92 1.0)" x="0" y="21.8" font-size="43" text-anchor="middle" stroke="#000" stroke-width="0.7" font-family='"DejaVu Sans", "Liberation Sans", sans-serif'>*</text>
<text transform="translate(1094.7 655.0) scale(0.92 1.0)" x="0" y="21.8" font-size="43" text-anchor="middle" stroke="#000" stroke-width="0.7" font-family='"DejaVu Sans", "Liberation Sans", sans-serif'>*</text>
<text transform="translate(1167.0 699.0) scale(0.92 1.0)" x="0" y="21.8" font-size="43" text-anchor="middle" stroke="#000" stroke-width="0.7" font-family='"DejaVu Sans", "Liberation Sans", sans-serif'>*</text>
<rect x="0" y="1101.8" width="653.0" height="1.2" fill="#8a8a8a"/>
<rect x="0" y="0" width="1949.0" height="3.7" fill="#000"/>
<rect x="0.6" y="0" width="4.0" height="1102.0" fill="#000"/>
<rect x="648.2" y="0" width="3.8" height="1100.4" fill="#000"/>
<rect x="1295.8" y="0" width="4.0" height="1100.4" fill="#000"/>
<rect x="1945" y="0" width="4.0" height="552.1" fill="#000"/>
<rect x="0" y="548.3" width="1949.0" height="3.8" fill="#000"/>
<rect x="0.6" y="1098.7" width="651.4" height="3.3" fill="#000"/>
<rect x="648.2" y="1097" width="651.6" height="3.4" fill="#000"/>
</svg>
</body></html>
